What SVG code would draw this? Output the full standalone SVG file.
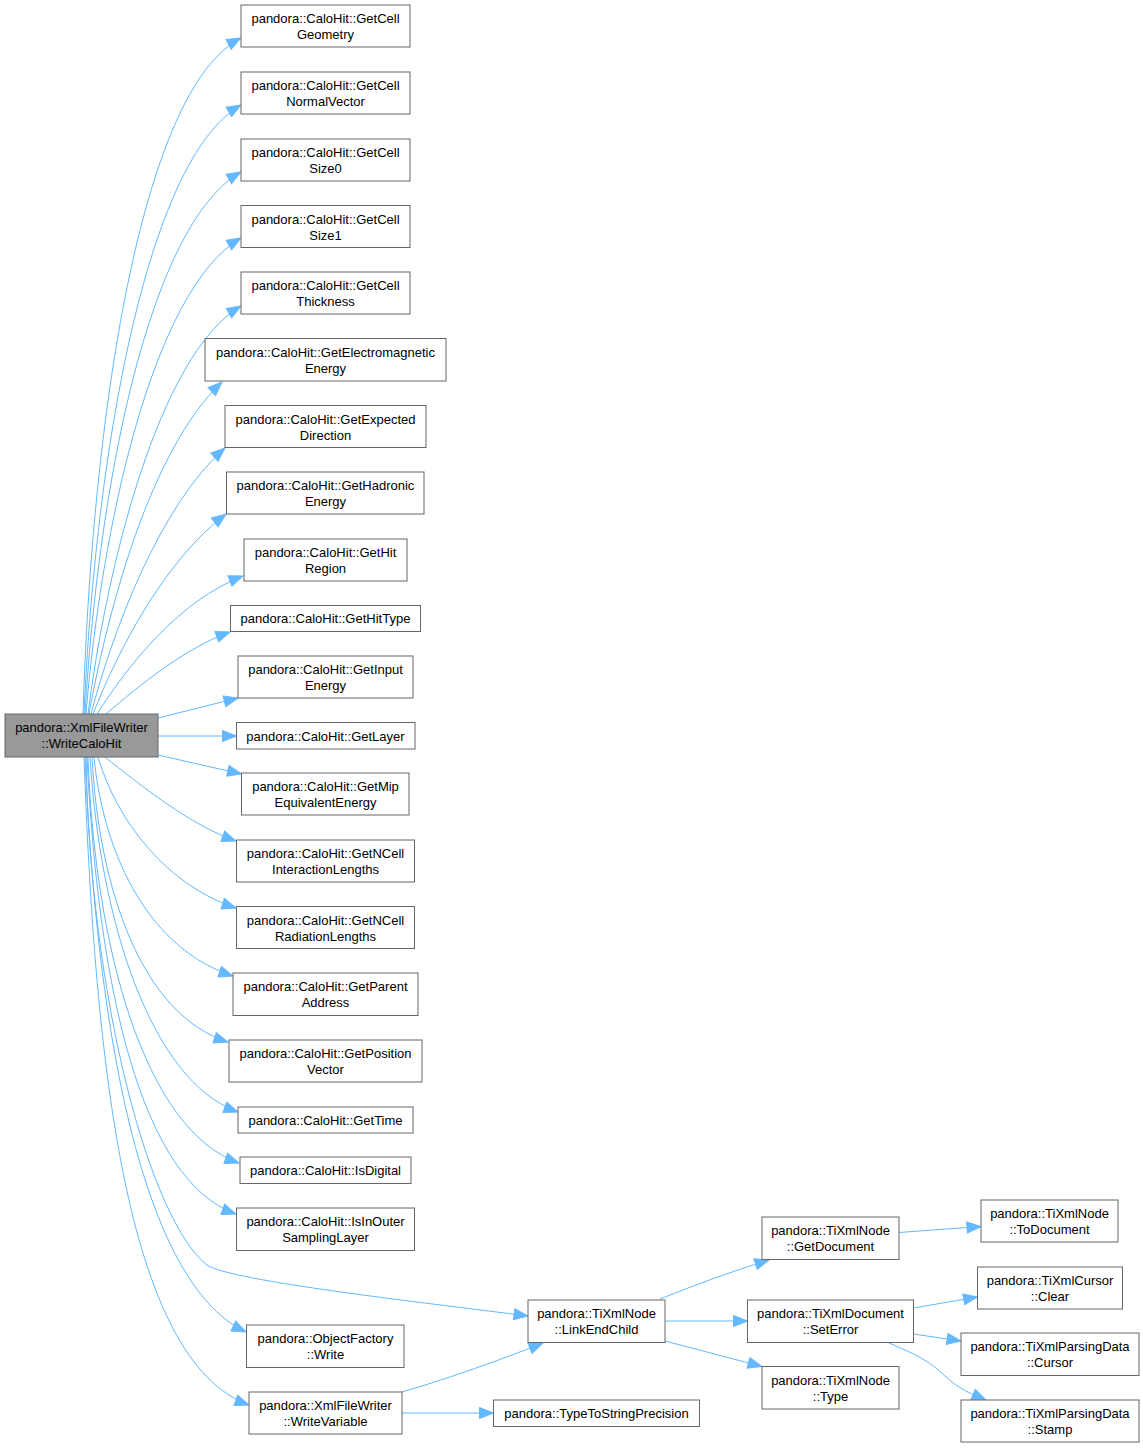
<svg xmlns="http://www.w3.org/2000/svg" width="1143" height="1448" viewBox="0 0 1143 1448">
<defs>
<style>
.n rect{fill:#ffffff;stroke:#666666;stroke-width:1}
.src rect{fill:#999999;stroke:#666666;stroke-width:1}
text{font-family:"Liberation Sans",Arial,Helvetica,sans-serif;font-size:13px;fill:#000000;text-anchor:middle}
.e path{fill:none;stroke:#63b8ff;stroke-width:1;marker-end:url(#ah)}
</style>
<marker id="ah" markerWidth="15" markerHeight="11" refX="14" refY="5.5" orient="auto" markerUnits="userSpaceOnUse" overflow="visible">
<path d="M0,0 L14,5.5 L0,11 z" fill="#63b8ff" stroke="#63b8ff" stroke-width="1"/>
</marker>
</defs>
<rect x="0" y="0" width="1143" height="1448" fill="#ffffff"/>

<g id="edges" class="e">
<path d="M83,714 C92,420 140,90 241,38"/>
<path d="M84,714 C95,460 145,160 241,105"/>
<path d="M85,714 C98,490 148,225 241,172"/>
<path d="M86,714 C101,530 152,290 241,238"/>
<path d="M88,714 C106,570 158,355 241,306"/>
<path d="M89,714 C108,610 150,450 222,382"/>
<path d="M91,714 C113,630 160,505 225,448"/>
<path d="M93,714 C118,650 165,560 226,514"/>
<path d="M97,714 C128,665 180,600 243,576"/>
<path d="M106,714 C140,685 185,648 230,632"/>
<path d="M158,718 L238,698"/>
<path d="M158,736 L236.5,736"/>
<path d="M158,755 L241.5,774"/>
<path d="M105,757 C140,785 190,825 236,841"/>
<path d="M98,757 C117,822 168,886 236,908"/>
<path d="M94,757 C104,860 152,950 233,976"/>
<path d="M92,757 C99,890 142,1015 228,1042"/>
<path d="M90,757 C100,920 150,1080 238,1112"/>
<path d="M88,757 C95,950 145,1130 239,1163"/>
<path d="M87,757 C98,985 140,1180 236,1214"/>
<path d="M86,757 C90,1000 150,1220 207,1265 C230,1281 420,1302 528,1316"/>
<path d="M85,757 C95,1000 135,1280 246,1332"/>
<path d="M84,757 C95,1060 125,1360 249,1405"/>
<path d="M402,1392 C450,1378 500,1360 543,1343"/>
<path d="M402,1413 L493.5,1413"/>
<path d="M660,1299 C695,1285 730,1272 769,1260"/>
<path d="M899,1232.5 L981,1226.5"/>
<path d="M665,1321 L747.5,1321"/>
<path d="M665,1341 L762,1366.5"/>
<path d="M913.5,1308 L977.5,1297"/>
<path d="M913.5,1334 L961,1341"/>
<path d="M889,1343 C920,1356 930,1362 945,1376 C960,1390 972,1394 986,1400"/>
</g>

<g id="n0" class="src"><rect x="5" y="714" width="153" height="43"/><text x="81.5" y="732">pandora::XmlFileWriter</text><text x="81.5" y="748">::WriteCaloHit</text></g>
<g id="n1" class="n"><rect x="241" y="5" width="169" height="42"/><text x="325.5" y="23">pandora::CaloHit::GetCell</text><text x="325.5" y="39">Geometry</text></g>
<g id="n2" class="n"><rect x="241" y="72" width="169" height="42"/><text x="325.5" y="90">pandora::CaloHit::GetCell</text><text x="325.5" y="106">NormalVector</text></g>
<g id="n3" class="n"><rect x="241" y="139" width="169" height="42"/><text x="325.5" y="157">pandora::CaloHit::GetCell</text><text x="325.5" y="173">Size0</text></g>
<g id="n4" class="n"><rect x="241" y="205.5" width="169" height="42"/><text x="325.5" y="223.5">pandora::CaloHit::GetCell</text><text x="325.5" y="239.5">Size1</text></g>
<g id="n5" class="n"><rect x="241" y="272" width="169" height="42"/><text x="325.5" y="290">pandora::CaloHit::GetCell</text><text x="325.5" y="306">Thickness</text></g>
<g id="n6" class="n"><rect x="205" y="338.5" width="241" height="42.5"/><text x="325.5" y="356.5">pandora::CaloHit::GetElectromagnetic</text><text x="325.5" y="372.5">Energy</text></g>
<g id="n7" class="n"><rect x="225" y="405.5" width="201" height="42"/><text x="325.5" y="423.5">pandora::CaloHit::GetExpected</text><text x="325.5" y="439.5">Direction</text></g>
<g id="n8" class="n"><rect x="226.5" y="472" width="197.5" height="42"/><text x="325.5" y="490">pandora::CaloHit::GetHadronic</text><text x="325.5" y="506">Energy</text></g>
<g id="n9" class="n"><rect x="244" y="539" width="163" height="42"/><text x="325.5" y="557">pandora::CaloHit::GetHit</text><text x="325.5" y="573">Region</text></g>
<g id="n10" class="n"><rect x="230.5" y="605.5" width="190" height="26"/><text x="325.5" y="623">pandora::CaloHit::GetHitType</text></g>
<g id="n11" class="n"><rect x="238" y="656" width="175" height="42"/><text x="325.5" y="674">pandora::CaloHit::GetInput</text><text x="325.5" y="690">Energy</text></g>
<g id="n12" class="n"><rect x="236.5" y="722.5" width="178.5" height="26.5"/><text x="325.5" y="740.5">pandora::CaloHit::GetLayer</text></g>
<g id="n13" class="n"><rect x="241.5" y="773" width="167.5" height="42"/><text x="325.5" y="791">pandora::CaloHit::GetMip</text><text x="325.5" y="807">EquivalentEnergy</text></g>
<g id="n14" class="n"><rect x="236.5" y="840" width="178" height="42"/><text x="325.5" y="858">pandora::CaloHit::GetNCell</text><text x="325.5" y="874">InteractionLengths</text></g>
<g id="n15" class="n"><rect x="236.5" y="906.5" width="178" height="42"/><text x="325.5" y="924.5">pandora::CaloHit::GetNCell</text><text x="325.5" y="940.5">RadiationLengths</text></g>
<g id="n16" class="n"><rect x="233" y="973" width="185" height="42.5"/><text x="325.5" y="991">pandora::CaloHit::GetParent</text><text x="325.5" y="1007">Address</text></g>
<g id="n17" class="n"><rect x="229" y="1040" width="193" height="42"/><text x="325.5" y="1058">pandora::CaloHit::GetPosition</text><text x="325.5" y="1074">Vector</text></g>
<g id="n18" class="n"><rect x="238" y="1107" width="175" height="26"/><text x="325.5" y="1124.5">pandora::CaloHit::GetTime</text></g>
<g id="n19" class="n"><rect x="240" y="1157" width="171" height="26.5"/><text x="325.5" y="1175">pandora::CaloHit::IsDigital</text></g>
<g id="n20" class="n"><rect x="236.5" y="1208" width="178" height="42.5"/><text x="325.5" y="1226">pandora::CaloHit::IsInOuter</text><text x="325.5" y="1242">SamplingLayer</text></g>
<g id="n21" class="n"><rect x="246.5" y="1325" width="157.5" height="42.5"/><text x="325.5" y="1343">pandora::ObjectFactory</text><text x="325.5" y="1359">::Write</text></g>
<g id="n22" class="n"><rect x="249" y="1392" width="153" height="42"/><text x="325.5" y="1410">pandora::XmlFileWriter</text><text x="325.5" y="1426">::WriteVariable</text></g>
<g id="n23" class="n"><rect x="493.5" y="1400" width="206" height="26.5"/><text x="596.5" y="1418">pandora::TypeToStringPrecision</text></g>
<g id="n24" class="n"><rect x="528" y="1300" width="137" height="42.5"/><text x="596.5" y="1318">pandora::TiXmlNode</text><text x="596.5" y="1334">::LinkEndChild</text></g>
<g id="n25" class="n"><rect x="762" y="1217" width="137" height="42.5"/><text x="830.5" y="1235">pandora::TiXmlNode</text><text x="830.5" y="1251">::GetDocument</text></g>
<g id="n26" class="n"><rect x="981" y="1200" width="137" height="42"/><text x="1049.5" y="1218">pandora::TiXmlNode</text><text x="1049.5" y="1234">::ToDocument</text></g>
<g id="n27" class="n"><rect x="747.5" y="1300" width="166" height="42.5"/><text x="830.5" y="1318">pandora::TiXmlDocument</text><text x="830.5" y="1334">::SetError</text></g>
<g id="n28" class="n"><rect x="762" y="1366.5" width="137" height="42.5"/><text x="830.5" y="1384.5">pandora::TiXmlNode</text><text x="830.5" y="1400.5">::Type</text></g>
<g id="n29" class="n"><rect x="977.5" y="1267" width="145" height="42"/><text x="1050" y="1285">pandora::TiXmlCursor</text><text x="1050" y="1301">::Clear</text></g>
<g id="n30" class="n"><rect x="961" y="1333" width="178" height="42.5"/><text x="1050" y="1351">pandora::TiXmlParsingData</text><text x="1050" y="1367">::Cursor</text></g>
<g id="n31" class="n"><rect x="961" y="1400" width="178" height="42"/><text x="1050" y="1418">pandora::TiXmlParsingData</text><text x="1050" y="1434">::Stamp</text></g>
</svg>
